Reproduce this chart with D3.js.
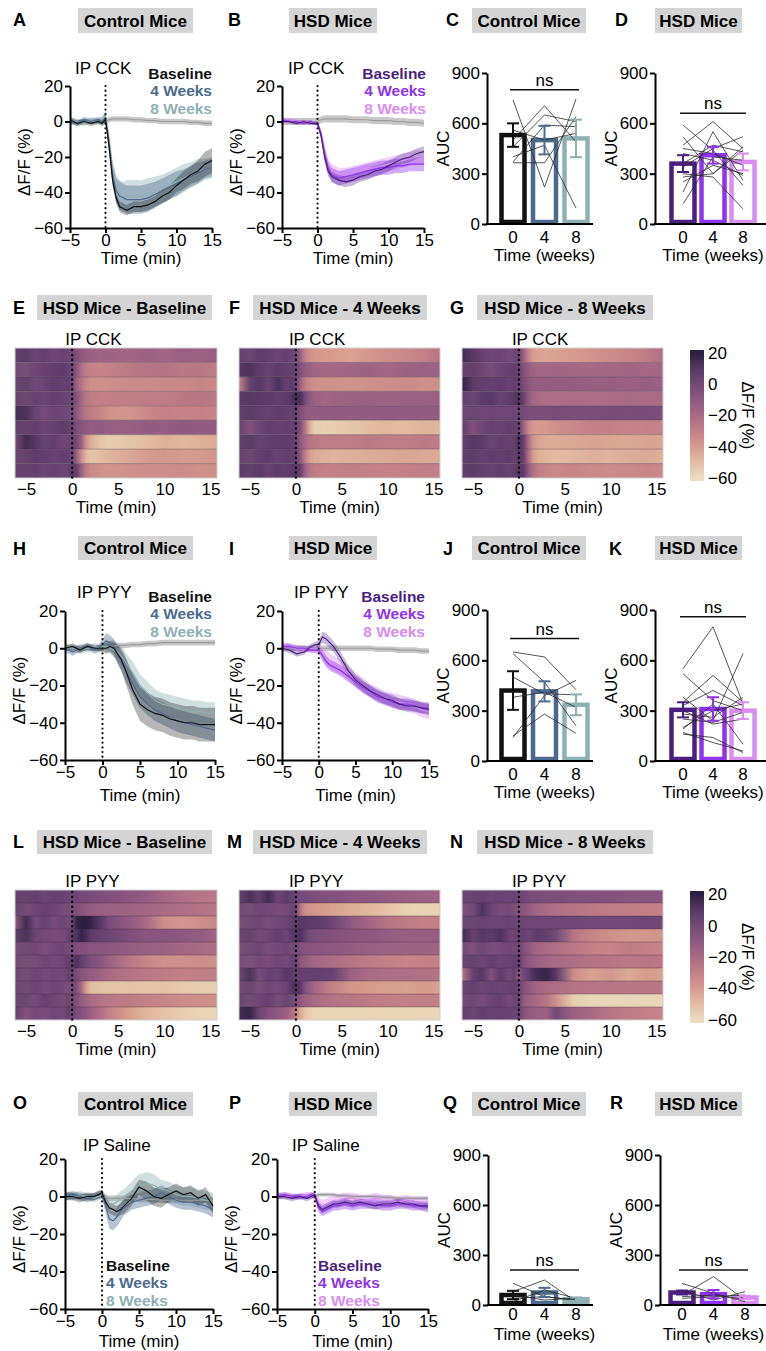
<!DOCTYPE html>
<html>
<head>
<meta charset="utf-8">
<script src="https://cdn.jsdelivr.net/npm/d3@7"></script>
<style>
body { margin: 0; background: #fff; }
svg { display: block; font-family: "Liberation Sans", Arial, Helvetica, sans-serif; }
</style>
</head>
<body>
<div id="chart"></div>
<script>
// ---- data ----
var seriesNames = ["Baseline", "4 Weeks", "8 Weeks"];
var ctrlColors = ["#111111", "#4d6a8e", "#8fb0b2"];
var hsdColors = ["#4a1f80", "#8f33ee", "#d98cf2"];

var lineTimes = [-5,-4,-3,-2,-1,-0.5,0,0.5,1,1.5,2,2.5,3,4,5,6,7,8,9,10,11,12,13,14,15];
var lineYTicks = [20, 0, -20, -40, -60];
var lineXTicks = [-5, 0, 5, 10, 15];

// IP CCK, control mice
var cckCtrlBase    = [1,-1,0,-1,0,-1,1,-14,-33,-43,-48,-49,-50,-48,-48,-47,-45,-42,-40,-36,-33,-30,-28,-24,-22];
var cckCtrlBaseSem = [1.5,1.5,1.5,1.5,1.5,1.5,2,3,3,3,3,3,3,3,3,3,3,4,4,4,5,5,6,7,7];
var cckCtrl4       = [0,-1,1,0,1,0,2,-12,-30,-39,-42,-43,-44,-44,-44,-43,-41,-39,-37,-35,-33,-31,-29,-27,-26];
var cckCtrl4Sem    = [1.5,1.5,1.5,1.5,1.5,2,3,4,6,7,8,8,8,8,8,8,7,7,7,7,6,6,6,5,5];
var cckCtrl8       = [1,0,-1,1,0,1,3,-10,-28,-37,-41,-42,-42,-42,-42,-41,-40,-38,-36,-34,-32,-30,-28,-27,-26];
var cckCtrl8Sem    = [1.5,1.5,1.5,1.5,1.5,2,3,4,6,7,8,8,9,9,9,9,9,8,8,8,8,7,7,6,6];
var cckCtrlRef     = [0,0,0,0,0,0,0,1,1.5,1.5,1.5,1.5,1.5,1,1,0.5,0.5,0,0,0,0,-0.5,-0.5,-1,-1];
var cckCtrlRefSem  = [1,1,1,1,1,1,1,1.5,1.5,1.5,1.5,1.5,1.5,1.5,1.5,1.5,1.5,1.5,1.5,1.5,1.5,1.5,1.5,1.5,1.5];

// IP CCK, HSD mice
var cckHsdBase    = [0,0,-1,0,-1,-1,-1,-8,-20,-28,-31,-32,-33,-34,-33,-31,-30,-28,-27,-25,-23,-21,-20,-18,-17];
var cckHsdBaseSem = [1,1,1,1,1,1,1,2,3,3,3,3,3,3,3,3,3,3,3,3,3,3,3,3,3];
var cckHsd4       = [1,0,0,-1,0,-1,-1,-7,-18,-26,-30,-31,-32,-31,-30,-29,-28,-27,-26,-26,-25,-25,-24,-24,-24];
var cckHsd4Sem    = [1,1,1,1,1,1,1.5,2,3,3,4,4,4,4,4,4,4,4,4,4,4,4,4,4,4];
var cckHsd8       = [1,1,0,0,-1,-1,-1,-6,-16,-24,-28,-29,-30,-30,-29,-28,-27,-26,-25,-24,-23,-22,-21,-20,-20];
var cckHsd8Sem    = [1,1,1,1,1,1,1.5,2,3,3,4,4,4,4,4,4,4,4,4,4,4,4,4,4,4];
var cckHsdRef     = [0,0,0,0,0,0,0,1,1.5,1.5,1.5,1.5,1.5,1.5,1,1,1,0.5,0.5,0.5,0,0,-0.5,-0.5,-1];
var cckHsdRefSem  = [2,2,2,2,2,2,2,2,2,2,2,2,2,2,2,2,2,2,2,2,2,2,2,2,2];

// IP PYY, control mice
var pyyCtrlBase    = [0,1,-1,1,0,0,0,0,1,0,-3,-6,-11,-22,-30,-33,-35,-36,-38,-39,-40,-40,-41,-41,-41];
var pyyCtrlBaseSem = [1.5,1.5,1.5,1.5,1.5,1.5,2,3,3,4,5,6,7,8,9,9,9,9,9,9,9,9,9,9,9];
var pyyCtrl4       = [0,-2,0,1,-1,0,2,4,3,1,-3,-7,-11,-19,-26,-30,-33,-35,-37,-39,-40,-41,-42,-43,-44];
var pyyCtrl4Sem    = [2,2,2,2,2,2,3,4,4,4,5,5,6,6,6,6,6,6,6,6,6,6,6,6,6];
var pyyCtrl8       = [1,0,-1,0,1,0,1,1,0,-1,-2,-4,-7,-13,-20,-24,-28,-30,-31,-32,-33,-34,-34,-35,-35];
var pyyCtrl8Sem    = [2,2,2,2,2,2,2,3,3,4,4,5,5,6,6,6,6,6,6,6,6,6,6,6,6];
var pyyCtrlRef     = [0,0,0,0,0,0,0,0.5,1,1,1.5,1.5,1.5,2,2,2.5,2.5,3,3,3,3,3,3,3,3];
var pyyCtrlRefSem  = [1.5,1.5,1.5,1.5,1.5,1.5,1.5,1.5,1.5,1.5,1.5,1.5,1.5,1.5,1.5,1.5,1.5,1.5,1.5,1.5,1.5,1.5,1.5,1.5,1.5];

// IP PYY, HSD mice
var pyyHsdBase    = [0,-1,-3,-2,1,2,2,6,5,3,1,-2,-5,-12,-17,-20,-23,-25,-27,-28,-30,-31,-31,-32,-33];
var pyyHsdBaseSem = [1.5,1.5,1.5,1.5,1.5,1.5,2,3,3,3,3,3,3,3,3,3,3,3,3,3,3,3,3,3,3];
var pyyHsd4       = [1,1,0,0,-1,-1,-1,-4,-7,-9,-10,-11,-12,-15,-18,-21,-23,-26,-27,-29,-30,-30,-31,-32,-32];
var pyyHsd4Sem    = [1.5,1.5,1.5,1.5,1.5,1.5,2,3,3,3,3,3,3,3,3,3,3,3,3,3,3,3,3,3,3];
var pyyHsd8       = [2,1,0,-1,0,0,0,-3,-5,-7,-8,-9,-10,-13,-17,-20,-23,-25,-27,-28,-29,-30,-31,-33,-34];
var pyyHsd8Sem    = [1.5,1.5,1.5,1.5,1.5,1.5,2,3,4,4,4,4,4,4,4,4,4,4,4,4,4,4,4,4,4];
var pyyHsdRef     = [0,0,0,0,0,0,0,0,0,0,0,0,0,0,0,0,0,-0.5,-0.5,-0.5,-1,-1,-1,-1.5,-1.5];
var pyyHsdRefSem  = [1.5,1.5,1.5,1.5,1.5,1.5,1.5,1.5,1.5,1.5,1.5,1.5,1.5,1.5,1.5,1.5,1.5,1.5,1.5,1.5,1.5,1.5,1.5,1.5,1.5];

// IP saline, control mice
var salCtrlBase    = [0,0,-1,0,0,1,2,-3,-6,-7,-8,-7,-5,-1,5,3,0,-1,1,3,1,2,-1,1,-5];
var salCtrlBaseSem = [2,2,2,2,2,2,2,3,3,3,3,3,4,4,4,5,5,5,4,4,4,4,4,4,4];
var salCtrl4       = [0,1,0,-1,0,1,1,-5,-12,-13,-11,-8,-6,-3,-2,-1,0,2,0,-2,-3,-3,-4,-5,-7];
var salCtrl4Sem    = [2,2,2,2,2,2,2,4,5,5,5,5,4,4,4,4,4,4,4,4,4,4,4,4,4];
var salCtrl8       = [1,0,1,0,-1,0,1,-2,-4,-4,-3,-1,0,3,6,7,6,4,3,1,0,0,-1,-2,-3];
var salCtrl8Sem    = [2,2,2,2,2,2,2,3,3,3,4,4,4,5,6,6,6,5,5,5,5,5,5,5,5];
var salCtrlRef     = [0,0,0,0,0,0,0,-0.5,-1,-1,-1,-1,-1,-1,-1.5,-1.5,-1.5,-2,-2,-2,-2,-2,-2,-2,-2];
var salCtrlRefSem  = [1.5,1.5,1.5,1.5,1.5,1.5,1.5,1.5,1.5,1.5,1.5,1.5,1.5,1.5,1.5,1.5,1.5,1.5,1.5,1.5,1.5,1.5,1.5,1.5,1.5];

// IP saline, HSD mice
var salHsdBase    = [0,0,-1,0,-1,0,1,-5,-7,-6,-5,-4,-4,-3,-4,-3,-4,-5,-4,-4,-3,-4,-4,-5,-5];
var salHsdBaseSem = [1.5,1.5,1.5,1.5,1.5,1.5,1.5,2,2,2,2,2,2,2,2,2,2,2,2,2,2,2,2,2,2];
var salHsd4       = [0,1,0,0,0,1,0,-6,-8,-7,-6,-5,-5,-4,-5,-4,-4,-4,-5,-5,-4,-4,-5,-5,-6];
var salHsd4Sem    = [1.5,1.5,1.5,1.5,1.5,1.5,1.5,2.5,2.5,2.5,2.5,2.5,2.5,2.5,2.5,2.5,2.5,2.5,2.5,2.5,2.5,2.5,2.5,2.5,2.5];
var salHsd8       = [1,0,0,0,1,0,1,-3,-5,-4,-3,-2,-2,-1,-1,-2,-2,-1,-2,-2,-3,-2,-3,-3,-3];
var salHsd8Sem    = [1.5,1.5,1.5,1.5,1.5,1.5,1.5,3,3,3,3,3,3,3,3,3,3,3,3,3,3,3,3,3,3];
var salHsdRef     = [0,0,0,0,0,0,0,1,1,1,1,1,0.5,0.5,0,0,0,0,-0.5,-0.5,-1,-1,-1,-1,-1];
var salHsdRefSem  = [1,1,1,1,1,1,1,1,1,1,1,1,1,1,1,1,1,1,1,1,1,1,1,1,1];

// AUC bar charts
var weekLabels = ["0", "4", "8"];
var aucTicks = [0, 300, 600, 900];
var aucCckCtrlMean = [530, 500, 510];
var aucCckCtrlSem  = [70, 85, 112];
var aucCckCtrlMice = [[740,220,745],[500,705,490],[460,650,610],[400,470,95],[370,590,580],[560,500,540],[365,365,640]];
var aucCckHsdMean  = [360, 410, 370];
var aucCckHsdSem   = [50, 50, 50];
var aucCckHsdMice  = [[590,440,230],[470,610,450],[340,450,520],[300,280,90],[250,350,300],[120,400,380],[520,300,460],[420,380,290],[190,550,260],[360,470,430],[450,420,350],[280,300,440]];
var aucPyyCtrlMean = [420, 415, 335];
var aucPyyCtrlSem  = [115, 60, 62];
var aucPyyCtrlMice = [[650,620,425],[640,470,210],[500,400,395],[150,280,165],[140,390,480],[380,410,320]];
var aucPyyHsdMean  = [305, 310, 300];
var aucPyyHsdSem   = [45, 70, 50];
var aucPyyHsdMice  = [[550,800,340],[380,240,640],[350,510,350],[300,220,250],[190,340,100],[170,110,60],[160,140,50],[200,300,340],[330,420,330],[250,230,290],[520,360,300],[280,260,380]];
var aucSalCtrlMean = [60, 75, 35];
var aucSalCtrlSem  = [25, 28, 10];
var aucSalCtrlMice = [[130,50,30],[80,150,20],[20,90,40],[60,30,40],[40,50,30]];
var aucSalHsdMean  = [75, 65, 45];
var aucSalHsdSem   = [12, 25, 10];
var aucSalHsdMice  = [[130,70,20],[60,170,30],[90,30,80],[40,50,60],[50,60,35]];
var nsLevels = [800, 660, 730, 860, 210, 210];

// heatmaps: one row per mouse, values at heatTimes
var heatTimes = [-6.2,-5,-4,-3,-2,-1,-0.5,0,0.5,1,1.5,2,3,4,6,8,10,12,14,15.7];
var colorTicks = [20, 0, -20, -40, -60];
var heatCckBaseline = [
  [5,8,3,6,2,4,3,2, -5,-10,-13,-15,-17,-16,-18,-15,-18,-14,-16,-13],
  [0,-3,2,5,6,8,5,3, -10,-22,-28,-30,-32,-30,-27,-25,-24,-27,-26,-28],
  [3,6,0,4,7,5,6,2, -15,-25,-32,-35,-36,-35,-34,-34,-33,-33,-32,-33],
  [4,2,5,3,6,4,3,2, -8,-18,-25,-28,-30,-30,-29,-28,-28,-27,-26,-27],
  [14,12,4,0,3,2,1,0, -10,-20,-26,-28,-32,-36,-38,-33,-30,-31,-30,-32],
  [6,4,6,3,5,8,6,4, -3,-8,-10,-12,-12,-13,-14,-12,-13,-10,-12,-11],
  [0,15,10,4,6,2,3,4, 0,-15,-35,-45,-52,-55,-53,-50,-46,-48,-46,-44],
  [3,5,8,6,4,6,5,3, -15,-35,-48,-52,-50,-47,-44,-40,-38,-40,-39,-37],
  [5,4,6,3,5,3,4,8, 5,-15,-28,-33,-36,-37,-36,-35,-35,-34,-36,-35]
];
var heatCck4 = [
  [5,3,8,6,2,6,3,2, -15,-30,-36,-38,-40,-40,-42,-38,-35,-33,-30,-25],
  [10,12,8,5,8,6,5,4, -5,-12,-15,-17,-18,-18,-17,-16,-18,-16,-15,-16],
  [-30,5,10,3,12,5,8,4, -15,-28,-33,-35,-36,-36,-37,-36,-35,-34,-36,-35],
  [8,10,9,8,6,8,10,14, 12,0,-10,-15,-18,-17,-16,-15,-16,-15,-15,-14],
  [6,8,6,5,7,6,4,5, -5,-10,-12,-12,-12,-11,-12,-12,-11,-12,-12,-12],
  [4,-5,3,6,5,6,4,6, -5,-25,-45,-55,-56,-55,-53,-50,-48,-50,-47,-48],
  [6,8,5,6,7,8,6,4, -10,-20,-25,-27,-28,-28,-28,-27,-28,-28,-27,-28],
  [5,2,6,8,4,7,5,6, -10,-28,-40,-44,-46,-47,-46,-45,-44,-43,-44,-44],
  [8,6,9,5,8,6,9,10, 5,-15,-25,-28,-30,-30,-29,-30,-31,-30,-29,-30]
];
var heatCck8 = [
  [15,10,5,2,3,0,2,3, -15,-30,-40,-42,-43,-42,-40,-37,-34,-32,-28,-22],
  [4,6,2,-2,3,5,6,4, -5,-12,-16,-18,-18,-17,-18,-19,-18,-17,-19,-18],
  [18,8,6,5,7,4,6,5, -2,-8,-12,-13,-13,-12,-13,-14,-14,-15,-14,-15],
  [6,3,8,10,4,8,10,12, 5,-10,-18,-20,-22,-22,-21,-22,-21,-20,-21,-20],
  [2,3,2,3,2,2,3,2, 0,-2,-3,-3,-3,-2,-3,-3,-2,-3,-2,-3],
  [6,-5,2,5,4,6,5,5, -15,-32,-38,-40,-39,-36,-33,-30,-30,-32,-30,-31],
  [5,10,8,3,6,4,5,12, 5,-20,-35,-42,-45,-45,-44,-42,-43,-44,-42,-43],
  [6,8,5,7,6,8,5,10, 5,-20,-38,-45,-48,-49,-48,-46,-47,-45,-44,-46],
  [6,8,6,5,7,5,6,10, 8,-10,-22,-28,-32,-33,-32,-33,-34,-33,-32,-33]
];
var heatPyyBaseline = [
  [5,4,6,3,5,4,3,2, 2,0,0,-2,-3,-4,-8,-12,-18,-22,-25,-27],
  [3,0,2,5,3,0,-2,-3, -5,-8,-10,-12,-14,-15,-16,-18,-20,-22,-24,-26],
  [-10,15,0,5,-2,3,0,2, 18,20,20,18,10,-2,-10,-20,-35,-38,-35,-32],
  [6,12,3,0,-2,-1,3,8, 12,18,14,8,5,2,-3,-8,-8,-10,-12,-18],
  [-2,0,2,-4,0,2,0,-1, -3,-5,-6,-7,-8,-10,-12,-14,-16,-18,-20,-22],
  [0,-3,-2,2,-1,3,5,8, 12,6,2,-3,-8,-15,-25,-32,-36,-36,-35,-36],
  [3,-2,3,0,2,0,5,3, -2,-8,-10,-12,-16,-20,-24,-26,-28,-30,-29,-30],
  [2,0,3,-1,2,0,-2,1, -5,-20,-40,-50,-52,-53,-52,-53,-52,-54,-55,-55],
  [3,2,0,5,2,-2,3,0, -5,-12,-16,-20,-24,-26,-28,-30,-32,-34,-35,-36],
  [5,-5,0,-3,2,0,5,3, -2,-5,-10,-15,-22,-30,-40,-48,-52,-55,-57,-58]
];
var heatPyy4 = [
  [5,12,6,15,3,8,5,3, 0,0,-2,-3,-4,-5,-8,-10,-12,-14,-15,-16],
  [0,-3,2,0,-2,0,3,2, -25,-35,-37,-38,-40,-42,-45,-48,-52,-56,-57,-56],
  [-3,0,2,-2,0,3,5,8, 10,10,8,8,6,2,-10,-18,-24,-28,-30,-30],
  [3,5,0,2,6,3,8,10, 12,5,0,-3,-5,-6,-8,-10,-12,-14,-14,-13],
  [-3,0,2,-2,0,3,0,1, -5,-6,-7,-8,-9,-10,-12,-14,-15,-16,-16,-17],
  [-2,-5,0,-3,2,-1,3,5, -10,-14,-16,-18,-20,-22,-25,-28,-30,-32,-31,-30],
  [3,12,-2,5,3,10,8,5, 5,5,5,6,5,4,-15,-20,-22,-22,-23,-24],
  [0,3,-3,2,0,3,10,12, 8,-5,-12,-18,-25,-30,-38,-40,-41,-42,-40,-42],
  [3,0,2,5,-2,3,0,-3, -10,-15,-18,-20,-22,-24,-26,-28,-29,-30,-29,-30],
  [15,18,3,-5,-10,-15,-20,-30, -45,-52,-55,-57,-58,-58,-58,-57,-58,-58,-57,-58]
];
var heatPyy8 = [
  [3,4,5,3,4,3,4,3, 2,0,-2,-2,-3,-3,-4,-5,-6,-7,-8,-8],
  [-5,0,12,3,-2,0,-3,-5, -8,-12,-15,-18,-20,-22,-25,-27,-28,-29,-30,-30],
  [3,3,4,3,3,4,3,3, 2,2,3,2,2,2,2,1,1,1,2,1],
  [15,5,10,8,12,3,2,5, 5,3,5,8,5,0,-25,-32,-36,-38,-38,-37],
  [0,-5,2,-3,-1,2,0,3, -5,-10,-15,-18,-20,-22,-26,-30,-32,-28,-30,-32],
  [3,5,2,6,3,4,5,6, -5,-10,-12,-15,-18,-20,-22,-24,-25,-26,-25,-26],
  [-25,5,10,-5,8,0,5,-10, 0,5,12,15,18,10,-35,-42,-38,-44,-40,-42],
  [3,5,2,4,3,5,4,3, -5,-10,-15,-18,-20,-22,-24,-25,-25,-26,-25,-26],
  [0,2,-2,3,5,0,2,3, -10,-15,-18,-20,-25,-35,-55,-58,-58,-58,-58,-58],
  [5,3,6,4,5,4,3,5, -5,-10,-12,-14,-15,0,-15,-20,-25,-28,-30,-31]
];

// ---- drawing ----
var W = 766, H = 1351;
var svg = d3.select("#chart").append("svg").attr("width", W).attr("height", H);
svg.append("rect").attr("width", W).attr("height", H).attr("fill", "#fff");
var defs = svg.append("defs");
var FONT = '"Liberation Sans", Arial, Helvetica, sans-serif';
var FS = 17;

var heatColor = d3.scaleLinear()
  .domain([-60, -50, -40, -30, -20, -10, 0, 10, 20])
  .range(["#ebdcbf", "#e3bda2", "#d69b8e", "#c38087", "#a96a84", "#8e587f", "#744a78", "#573866", "#2c2040"])
  .clamp(true);

function panelTitle(letter, lx, ly, bx, by, bw, bh, label) {
  svg.append("text").attr("x", lx).attr("y", ly)
    .attr("font-size", 18).attr("font-weight", "bold").text(letter);
  svg.append("rect").attr("x", bx).attr("y", by).attr("width", bw).attr("height", bh)
    .attr("fill", "#d4d4d4");
  svg.append("text").attr("x", bx + bw / 2).attr("y", by + bh / 2).attr("dy", "0.36em")
    .attr("text-anchor", "middle").attr("font-size", 17).attr("font-weight", "bold").text(label);
}

function styleAxis(g) {
  g.attr("font-size", FS).attr("font-family", FONT);
  g.select(".domain").attr("stroke-width", 2);
  g.selectAll(".tick line").attr("stroke-width", 2);
}

function linePanel(p) {
  var x = d3.scaleLinear().domain([-5, 15]).range([p.x0, p.x1]);
  var y = d3.scaleLinear().domain([-60, 20]).range([p.yBot, p.yTop]);
  var g = svg.append("g");

  var series = [{mean: p.ref, sem: p.refSem, color: "#9b9b9b", band: 0.55}];
  for (var k = 2; k >= 0; k--) {
    series.push({mean: p.means[k], sem: p.sems[k], color: p.colors[k], band: k == 0 ? 0.3 : 0.4});
  }

  var area = d3.area()
    .x(function(d, i) { return x(lineTimes[i]); })
    .y0(function(d) { return y(d[0] - d[1]); })
    .y1(function(d) { return y(d[0] + d[1]); });
  var line = d3.line()
    .x(function(d, i) { return x(lineTimes[i]); })
    .y(function(d) { return y(d); });

  series.forEach(function(s) {
    g.append("path").datum(d3.zip(s.mean, s.sem))
      .attr("d", area).attr("fill", s.color).attr("fill-opacity", s.band);
  });
  series.forEach(function(s) {
    g.append("path").datum(s.mean)
      .attr("d", line).attr("fill", "none").attr("stroke", s.color).attr("stroke-width", 1.2);
  });

  // injection marker
  g.append("line").attr("x1", x(0)).attr("x2", x(0)).attr("y1", y(20)).attr("y2", y(-60))
    .attr("stroke", "#111").attr("stroke-width", 2.2)
    .attr("stroke-linecap", "round").attr("stroke-dasharray", "0.1,4.6");

  var ya = g.append("g").attr("transform", "translate(" + p.x0 + ",0)")
    .call(d3.axisLeft(y).tickValues(lineYTicks).tickSize(5).tickSizeOuter(0).tickPadding(2));
  styleAxis(ya);
  var xa = g.append("g").attr("transform", "translate(0," + p.yBot + ")")
    .call(d3.axisBottom(x).tickValues(lineXTicks).tickSize(5).tickSizeOuter(0).tickPadding(1));
  styleAxis(xa);

  g.append("text").attr("x", (p.x0 + p.x1) / 2).attr("y", p.yBot + p.timeGap)
    .attr("text-anchor", "middle").attr("font-size", FS).text("Time (min)");
  g.append("text").attr("transform", "translate(" + (p.x0 - 40) + "," + ((p.yTop + p.yBot) / 2 + 5) + ") rotate(-90)")
    .attr("text-anchor", "middle").attr("font-size", FS).text("\u0394F/F (%)");
  g.append("text").attr("x", p.labelX).attr("y", p.labelY).attr("font-size", FS).text(p.label);

  // stacked legend; p.legY is the middle line's baseline
  g.selectAll(".leg").data(seriesNames).enter().append("text")
    .attr("x", p.legX).attr("y", function(d, i) { return p.legY + (i - 1) * 17.5; })
    .attr("text-anchor", p.legAnchor).attr("font-size", 15.5).attr("font-weight", "bold")
    .attr("fill", function(d, i) { return p.colors[i]; })
    .text(function(d) { return d; });
}

function barPanel(p) {
  var x = d3.scalePoint().domain(weekLabels).range([p.x0 + p.c0, p.x0 + p.c1]);
  var y = d3.scaleLinear().domain([0, 900]).range([p.yBot, p.yTop]);
  var g = svg.append("g");
  var bw = 23;

  g.selectAll(".bar").data(p.mean).enter().append("rect")
    .attr("x", function(d, i) { return x(weekLabels[i]) - bw / 2; })
    .attr("width", bw)
    .attr("y", function(d) { return y(d); })
    .attr("height", function(d) { return Math.max(0, y(0) - y(d) - 2); })
    .attr("fill", "#fff")
    .attr("stroke", function(d, i) { return p.colors[i]; })
    .attr("stroke-width", 4.5);

  var mouseLine = d3.line()
    .x(function(d, i) { return x(weekLabels[i]); })
    .y(function(d) { return y(d); });
  g.selectAll(".mouse").data(p.mice).enter().append("path")
    .attr("d", mouseLine).attr("fill", "none").attr("stroke", "#2a2a2a").attr("stroke-width", 0.8);

  p.mean.forEach(function(m, i) {
    var cx = x(weekLabels[i]);
    var lo = y(m - p.sem[i]), hi = y(m + p.sem[i]);
    g.append("line").attr("x1", cx).attr("x2", cx).attr("y1", lo).attr("y2", hi)
      .attr("stroke", p.colors[i]).attr("stroke-width", 2);
    [lo, hi].forEach(function(v) {
      g.append("line").attr("x1", cx - 6).attr("x2", cx + 6).attr("y1", v).attr("y2", v)
        .attr("stroke", p.colors[i]).attr("stroke-width", 2);
    });
  });

  var ya = g.append("g").attr("transform", "translate(" + p.x0 + ",0)")
    .call(d3.axisLeft(y).tickValues(aucTicks).tickSize(5).tickSizeOuter(0).tickPadding(2));
  styleAxis(ya);
  g.append("line").attr("x1", p.x0 - 1).attr("x2", p.x1).attr("y1", y(0)).attr("y2", y(0))
    .attr("stroke", "#000").attr("stroke-width", 2);

  g.selectAll(".wk").data(weekLabels).enter().append("text")
    .attr("x", function(d) { return x(d); }).attr("y", p.yBot + p.tickGap)
    .attr("text-anchor", "middle").attr("font-size", FS).text(function(d) { return d; });
  g.append("text").attr("x", x("4")).attr("y", p.yBot + p.timeGap)
    .attr("text-anchor", "middle").attr("font-size", FS).text("Time (weeks)");
  g.append("text").attr("transform", "translate(" + (p.x0 - 38) + "," + ((p.yTop + p.yBot) / 2) + ") rotate(-90)")
    .attr("text-anchor", "middle").attr("font-size", FS).text("AUC");

  var ny = y(p.ns);
  g.append("line").attr("x1", x("0") - 3).attr("x2", x("8") + 3).attr("y1", ny).attr("y2", ny)
    .attr("stroke", "#111").attr("stroke-width", 1.5);
  g.append("text").attr("x", x("4")).attr("y", ny - 4).attr("text-anchor", "middle")
    .attr("font-size", FS).text("ns");
}

function heatPanel(p) {
  var x = d3.scaleLinear().domain([heatTimes[0], heatTimes[heatTimes.length - 1]]).range([p.x0, p.x1]);
  var y = d3.scaleBand().domain(d3.range(p.rows.length)).range([p.y0, p.y1]);
  var g = svg.append("g");

  p.rows.forEach(function(row, i) {
    var id = p.id + "-row" + i;
    var grad = defs.append("linearGradient").attr("id", id)
      .attr("gradientUnits", "userSpaceOnUse")
      .attr("x1", p.x0).attr("x2", p.x1).attr("y1", 0).attr("y2", 0);
    grad.selectAll("stop").data(row).enter().append("stop")
      .attr("offset", function(d, j) { return (x(heatTimes[j]) - p.x0) / (p.x1 - p.x0); })
      .attr("stop-color", function(d) { return heatColor(d); });
    g.append("rect").attr("x", p.x0).attr("y", y(i)).attr("width", p.x1 - p.x0)
      .attr("height", y.bandwidth()).attr("fill", "url(#" + id + ")");
  });
  g.selectAll(".sep").data(d3.range(1, p.rows.length)).enter().append("line")
    .attr("x1", p.x0).attr("x2", p.x1)
    .attr("y1", function(d) { return y(d); }).attr("y2", function(d) { return y(d); })
    .attr("stroke", "#3e2c3c").attr("stroke-opacity", 0.35).attr("stroke-width", 1);
  g.append("rect").attr("x", p.x0).attr("y", p.y0).attr("width", p.x1 - p.x0).attr("height", p.y1 - p.y0)
    .attr("fill", "none").attr("stroke", "#cfcfcf").attr("stroke-width", 1);

  g.append("line").attr("x1", x(0)).attr("x2", x(0)).attr("y1", p.y0 + 2).attr("y2", p.y1)
    .attr("stroke", "#111").attr("stroke-width", 2.4)
    .attr("stroke-linecap", "round").attr("stroke-dasharray", "0.1,4.8");

  var xa = g.append("g").attr("transform", "translate(0," + p.y1 + ")")
    .call(d3.axisBottom(x).tickValues(lineXTicks).tickSize(0).tickPadding(5));
  xa.attr("font-size", FS).attr("font-family", FONT);
  xa.select(".domain").remove();

  g.append("text").attr("x", (p.x0 + p.x1) / 2).attr("y", p.y1 + 35)
    .attr("text-anchor", "middle").attr("font-size", FS).text("Time (min)");
  g.append("text").attr("x", x(0) - 7).attr("y", p.y0 - 3).attr("font-size", FS).text(p.label);
}

function colorBar(x0, y0, y1) {
  var id = "cbar" + Math.round(y0);
  var c = d3.scaleLinear().domain([-62, 22]).range([y1, y0]);
  var grad = defs.append("linearGradient").attr("id", id)
    .attr("gradientUnits", "userSpaceOnUse").attr("x1", 0).attr("x2", 0).attr("y1", y0).attr("y2", y1);
  // stops must run top to bottom, so walk the colour domain from high to low
  grad.selectAll("stop").data(heatColor.domain().slice().reverse()).enter().append("stop")
    .attr("offset", function(d) { return (c(d) - y0) / (y1 - y0); })
    .attr("stop-color", function(d) { return heatColor(d); });
  svg.append("rect").attr("x", x0).attr("y", y0).attr("width", 14).attr("height", y1 - y0)
    .attr("fill", "url(#" + id + ")");
  var a = svg.append("g").attr("transform", "translate(" + (x0 + 14) + ",0)")
    .call(d3.axisRight(c).tickValues(colorTicks).tickSize(0).tickPadding(4));
  a.attr("font-size", FS).attr("font-family", FONT);
  a.select(".domain").remove();
  svg.append("text").attr("transform", "translate(" + 742 + "," + ((y0 + y1) / 2) + ") rotate(90)")
    .attr("text-anchor", "middle").attr("font-size", FS).text("\u0394F/F (%)");
}

// ---- row 1: IP CCK traces + AUC ----
panelTitle("A", 13, 26, 78, 8, 115, 25, "Control Mice");
panelTitle("B", 228, 26, 289, 8, 88, 25, "HSD Mice");
panelTitle("C", 446, 26, 472, 8, 114, 25, "Control Mice");
panelTitle("D", 615, 26, 655, 8, 87, 25, "HSD Mice");

linePanel({x0: 70, x1: 212, yTop: 86, yBot: 228, timeGap: 36,
  means: [cckCtrlBase, cckCtrl4, cckCtrl8], sems: [cckCtrlBaseSem, cckCtrl4Sem, cckCtrl8Sem],
  ref: cckCtrlRef, refSem: cckCtrlRefSem, colors: ctrlColors,
  label: "IP CCK", labelX: 75, labelY: 74, legX: 212, legY: 96, legAnchor: "end"});
linePanel({x0: 282, x1: 424, yTop: 86, yBot: 228, timeGap: 36,
  means: [cckHsdBase, cckHsd4, cckHsd8], sems: [cckHsdBaseSem, cckHsd4Sem, cckHsd8Sem],
  ref: cckHsdRef, refSem: cckHsdRefSem, colors: hsdColors,
  label: "IP CCK", labelX: 288, labelY: 74, legX: 426, legY: 96, legAnchor: "end"});
barPanel({x0: 487, x1: 593, c0: 26, c1: 89, yTop: 73, yBot: 224, tickGap: 19, timeGap: 37,
  mean: aucCckCtrlMean, sem: aucCckCtrlSem, mice: aucCckCtrlMice, colors: ctrlColors, ns: nsLevels[0]});
barPanel({x0: 655, x1: 766, c0: 28, c1: 88, yTop: 73, yBot: 224, tickGap: 19, timeGap: 37,
  mean: aucCckHsdMean, sem: aucCckHsdSem, mice: aucCckHsdMice, colors: hsdColors, ns: nsLevels[1]});

// ---- row 2: IP CCK heatmaps ----
panelTitle("E", 13, 314, 37, 295, 175, 25, "HSD Mice - Baseline");
panelTitle("F", 229, 314, 253, 295, 174, 25, "HSD Mice - 4 Weeks");
panelTitle("G", 450, 314, 477, 295, 176, 25, "HSD Mice - 8 Weeks");
heatPanel({id: "hE", x0: 15, x1: 217, y0: 348, y1: 478, rows: heatCckBaseline, label: "IP CCK"});
heatPanel({id: "hF", x0: 239, x1: 440, y0: 348, y1: 478, rows: heatCck4, label: "IP CCK"});
heatPanel({id: "hG", x0: 462, x1: 663, y0: 348, y1: 478, rows: heatCck8, label: "IP CCK"});
colorBar(690, 350, 481);

// ---- row 3: IP PYY traces + AUC ----
panelTitle("H", 13, 555, 78, 536, 115, 24, "Control Mice");
panelTitle("I", 229, 555, 289, 536, 88, 24, "HSD Mice");
panelTitle("J", 443, 555, 472, 536, 114, 24, "Control Mice");
panelTitle("K", 609, 555, 655, 536, 87, 24, "HSD Mice");

linePanel({x0: 65, x1: 215, yTop: 611, yBot: 760, timeGap: 41,
  means: [pyyCtrlBase, pyyCtrl4, pyyCtrl8], sems: [pyyCtrlBaseSem, pyyCtrl4Sem, pyyCtrl8Sem],
  ref: pyyCtrlRef, refSem: pyyCtrlRefSem, colors: ctrlColors,
  label: "IP PYY", labelX: 77, labelY: 598, legX: 212, legY: 619, legAnchor: "end"});
linePanel({x0: 282, x1: 429, yTop: 611, yBot: 760, timeGap: 41,
  means: [pyyHsdBase, pyyHsd4, pyyHsd8], sems: [pyyHsdBaseSem, pyyHsd4Sem, pyyHsd8Sem],
  ref: pyyHsdRef, refSem: pyyHsdRefSem, colors: hsdColors,
  label: "IP PYY", labelX: 294, labelY: 598, legX: 425, legY: 619, legAnchor: "end"});
barPanel({x0: 487, x1: 593, c0: 26, c1: 89, yTop: 610, yBot: 761, tickGap: 19, timeGap: 37,
  mean: aucPyyCtrlMean, sem: aucPyyCtrlSem, mice: aucPyyCtrlMice, colors: ctrlColors, ns: nsLevels[2]});
barPanel({x0: 655, x1: 766, c0: 28, c1: 88, yTop: 610, yBot: 761, tickGap: 19, timeGap: 37,
  mean: aucPyyHsdMean, sem: aucPyyHsdSem, mice: aucPyyHsdMice, colors: hsdColors, ns: nsLevels[3]});

// ---- row 4: IP PYY heatmaps ----
panelTitle("L", 13, 848, 37, 830, 175, 24, "HSD Mice - Baseline");
panelTitle("M", 227, 848, 253, 830, 174, 24, "HSD Mice - 4 Weeks");
panelTitle("N", 450, 848, 477, 830, 176, 24, "HSD Mice - 8 Weeks");
heatPanel({id: "hL", x0: 15, x1: 217, y0: 890, y1: 1020, rows: heatPyyBaseline, label: "IP PYY"});
heatPanel({id: "hM", x0: 239, x1: 440, y0: 890, y1: 1020, rows: heatPyy4, label: "IP PYY"});
heatPanel({id: "hN", x0: 462, x1: 663, y0: 890, y1: 1020, rows: heatPyy8, label: "IP PYY"});
colorBar(690, 891, 1023);

// ---- row 5: IP saline traces + AUC ----
panelTitle("O", 13, 1109, 78, 1092, 115, 24, "Control Mice");
panelTitle("P", 229, 1109, 289, 1092, 88, 24, "HSD Mice");
panelTitle("Q", 443, 1109, 472, 1092, 114, 24, "Control Mice");
panelTitle("R", 610, 1109, 655, 1092, 87, 24, "HSD Mice");

linePanel({x0: 65, x1: 213, yTop: 1159, yBot: 1309, timeGap: 37.5,
  means: [salCtrlBase, salCtrl4, salCtrl8], sems: [salCtrlBaseSem, salCtrl4Sem, salCtrl8Sem],
  ref: salCtrlRef, refSem: salCtrlRefSem, colors: ctrlColors,
  label: "IP Saline", labelX: 83, labelY: 1151, legX: 106, legY: 1288, legAnchor: "start"});
linePanel({x0: 277, x1: 428, yTop: 1159, yBot: 1309, timeGap: 37.5,
  means: [salHsdBase, salHsd4, salHsd8], sems: [salHsdBaseSem, salHsd4Sem, salHsd8Sem],
  ref: salHsdRef, refSem: salHsdRefSem, colors: hsdColors,
  label: "IP Saline", labelX: 292, labelY: 1151, legX: 318, legY: 1288, legAnchor: "start"});
barPanel({x0: 488, x1: 593, c0: 25, c1: 88, yTop: 1155, yBot: 1305, tickGap: 15, timeGap: 35,
  mean: aucSalCtrlMean, sem: aucSalCtrlSem, mice: aucSalCtrlMice, colors: ctrlColors, ns: nsLevels[4]});
barPanel({x0: 660, x1: 766, c0: 22, c1: 85, yTop: 1155, yBot: 1305, tickGap: 15, timeGap: 35,
  mean: aucSalHsdMean, sem: aucSalHsdSem, mice: aucSalHsdMice, colors: hsdColors, ns: nsLevels[5]});
</script>
</body>
</html>
